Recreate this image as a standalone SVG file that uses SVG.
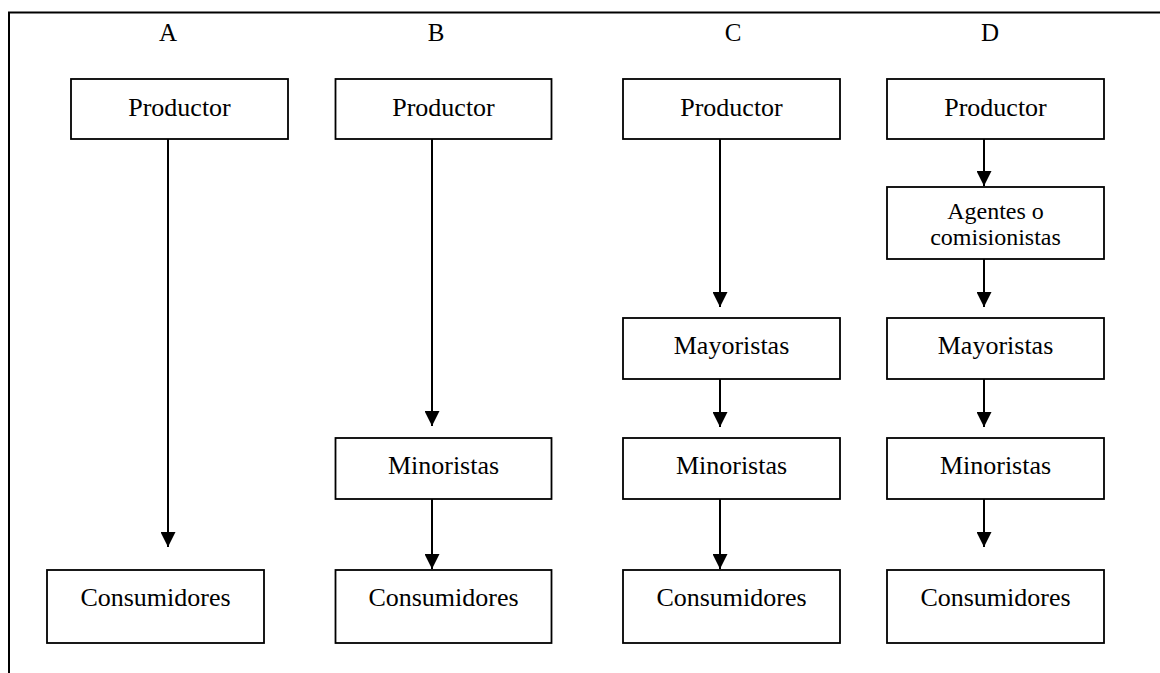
<svg xmlns="http://www.w3.org/2000/svg" width="1160" height="673" viewBox="0 0 1160 673">
<defs>
<marker id="ah" markerUnits="userSpaceOnUse" markerWidth="15" markerHeight="15" refX="15" refY="7.5" orient="auto">
<path d="M0,0 L15,7.5 L0,15 z" fill="#000"/>
</marker>
<style>
.box{fill:#fff;stroke:#000;stroke-width:1.8}
.t{font-family:"Liberation Serif","Times New Roman",serif;font-size:26px;fill:#000;text-anchor:middle}
.ts{font-family:"Liberation Serif","Times New Roman",serif;font-size:24px;fill:#000;text-anchor:middle}
.lbl{font-family:"Liberation Serif","Times New Roman",serif;font-size:25px;fill:#000;text-anchor:middle}
.c{stroke:#000;stroke-width:2;fill:none;marker-end:url(#ah)}
.frame{stroke:#000;stroke-width:2;fill:none}
</style>
</defs>
<rect width="1160" height="673" fill="#fff"/>
<path class="frame" d="M9,673 L9,12.5 L1160,12.5"/>
<g id="labels">
<text class="lbl" x="168" y="41">A</text>
<text class="lbl" x="436" y="41">B</text>
<text class="lbl" x="733" y="41">C</text>
<text class="lbl" x="990" y="41">D</text>
</g>
<g id="connectors">
<line class="c" x1="168" y1="139" x2="168" y2="547"/>
<line class="c" x1="432" y1="139" x2="432" y2="426"/>
<line class="c" x1="432" y1="499" x2="432" y2="569"/>
<line class="c" x1="720" y1="139" x2="720" y2="307"/>
<line class="c" x1="720" y1="379" x2="720" y2="427"/>
<line class="c" x1="720" y1="499" x2="720" y2="569"/>
<line class="c" x1="984" y1="139" x2="984" y2="186"/>
<line class="c" x1="984" y1="259" x2="984" y2="307"/>
<line class="c" x1="984" y1="379" x2="984" y2="427"/>
<line class="c" x1="984" y1="499" x2="984" y2="547"/>
</g>
<g id="A-productor"><rect class="box" x="71" y="79" width="217" height="60"/><text class="t" x="179.5" y="116">Productor</text></g>
<g id="A-consumidores"><rect class="box" x="47" y="570" width="217" height="73"/><text class="t" x="155.5" y="606">Consumidores</text></g>
<g id="B-productor"><rect class="box" x="335.5" y="79" width="216" height="60"/><text class="t" x="443.5" y="116">Productor</text></g>
<g id="B-minoristas"><rect class="box" x="335.5" y="438" width="216" height="61"/><text class="t" x="443.5" y="474">Minoristas</text></g>
<g id="B-consumidores"><rect class="box" x="335.5" y="570" width="216" height="73"/><text class="t" x="443.5" y="606">Consumidores</text></g>
<g id="C-productor"><rect class="box" x="623" y="79" width="217" height="60"/><text class="t" x="731.5" y="116">Productor</text></g>
<g id="C-mayoristas"><rect class="box" x="623" y="318" width="217" height="61"/><text class="t" x="731.5" y="354">Mayoristas</text></g>
<g id="C-minoristas"><rect class="box" x="623" y="438" width="217" height="61"/><text class="t" x="731.5" y="474">Minoristas</text></g>
<g id="C-consumidores"><rect class="box" x="623" y="570" width="217" height="73"/><text class="t" x="731.5" y="606">Consumidores</text></g>
<g id="D-productor"><rect class="box" x="887" y="79" width="217" height="60"/><text class="t" x="995.5" y="116">Productor</text></g>
<g id="D-agentes"><rect class="box" x="887" y="187" width="217" height="72"/><text class="ts" x="995.5" y="219">Agentes o</text><text class="ts" x="995.5" y="245">comisionistas</text></g>
<g id="D-mayoristas"><rect class="box" x="887" y="318" width="217" height="61"/><text class="t" x="995.5" y="354">Mayoristas</text></g>
<g id="D-minoristas"><rect class="box" x="887" y="438" width="217" height="61"/><text class="t" x="995.5" y="474">Minoristas</text></g>
<g id="D-consumidores"><rect class="box" x="887" y="570" width="217" height="73"/><text class="t" x="995.5" y="606">Consumidores</text></g>
</svg>
